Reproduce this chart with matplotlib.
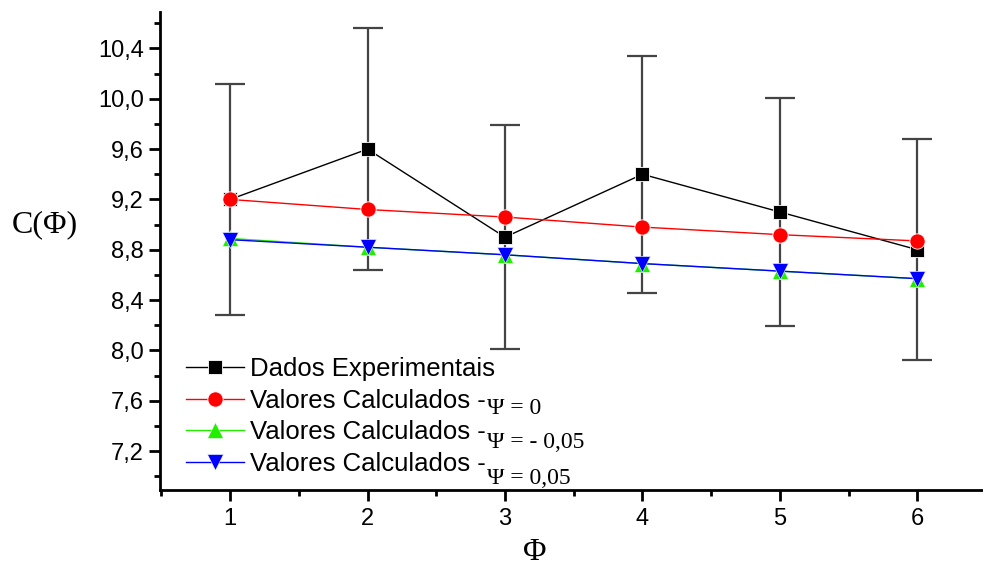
import matplotlib
matplotlib.use("Agg")
import matplotlib.pyplot as plt
from matplotlib.ticker import MultipleLocator, FuncFormatter

# data
phi = [1, 2, 3, 4, 5, 6]
c_exp = [9.2, 9.6, 8.9, 9.4, 9.1, 8.8]
c_err = [0.92, 0.96, 0.89, 0.94, 0.91, 0.88]
c_psi0 = [9.2, 9.12, 9.06, 8.98, 8.92, 8.87]
c_psi_neg = [8.89, 8.82, 8.76, 8.69, 8.63, 8.57]
c_psi_pos = [8.88, 8.82, 8.76, 8.69, 8.63, 8.57]

psi_labels = ["\u03a8 = 0", "\u03a8 = - 0,05", "\u03a8 = 0,05"]

W, H = 983, 568
fig = plt.figure(figsize=(W / 100, H / 100), dpi=100)
ax = fig.add_axes([160 / W, 1 - 490 / H, 1 - 161 / W, (490 - 12) / H])

sans = ["Liberation Sans", "DejaVu Sans"]
serif = ["Liberation Serif", "DejaVu Serif"]

ax.errorbar(phi, c_exp, yerr=c_err, fmt="none", ecolor="#444444",
            elinewidth=1.6, capsize=11, capthick=1.6, zorder=1)
ax.plot(phi, c_exp, color="black", lw=1.0, marker="s", ms=10,
        mfc="black", mec="white", mew=0.6, zorder=3,
        label="Dados Experimentais")
ax.plot(phi, c_psi0, color="red", lw=1.0, marker="o", ms=11,
        mfc="red", mec="white", mew=0.6, zorder=4,
        label="Valores Calculados -")
ax.plot(phi, c_psi_neg, color="#22ee00", lw=1.0, marker="^", ms=11,
        mfc="#22ee00", mec="white", mew=0.4, zorder=5,
        label="Valores Calculados -")
ax.plot(phi, c_psi_pos, color="blue", lw=1.0, marker="v", ms=11,
        mfc="blue", mec="white", mew=0.4, zorder=6,
        label="Valores Calculados -")

ax.set_xlim(0.49, 6.47)
ax.set_ylim(6.89, 10.69)

ax.xaxis.set_major_locator(MultipleLocator(1))
ax.xaxis.set_minor_locator(MultipleLocator(0.5))
ax.yaxis.set_major_locator(MultipleLocator(0.4))
ax.yaxis.set_minor_locator(MultipleLocator(0.2))
ax.yaxis.set_major_formatter(FuncFormatter(lambda v, p: f"{v:.1f}".replace(".", ",")))

for s in ["top", "right"]:
    ax.spines[s].set_visible(False)
for s in ["left", "bottom"]:
    ax.spines[s].set_linewidth(2)

ax.tick_params(which="major", direction="out", length=8, width=2, labelsize=17)
ax.tick_params(which="minor", direction="out", length=4, width=2)
ax.tick_params(axis="x", pad=5)
for lab in ax.get_xticklabels() + ax.get_yticklabels():
    lab.set_family(sans)

fig.text(45 / W, 1 - 225 / H, "C(\u03a6)", family=serif, fontsize=23,
         ha="center", va="center")
fig.text(535 / W, 1 - 553 / H, "\u03a6", family=serif, fontsize=23,
         ha="center", va="center")

leg = ax.legend(loc="upper left", bbox_to_anchor=((186 - 160) / (W - 161), (490 - 357) / 478),
                frameon=False, prop={"family": sans, "size": 18.5},
                handlelength=2.25, handletextpad=0.25, labelspacing=0.3,
                borderaxespad=0, borderpad=0)

psi_pos = [(487, 409), (487, 443), (487, 479)]
for (px, py), txt in zip(psi_pos, psi_labels):
    fig.text(px / W, 1 - py / H, txt, family=serif, fontsize=17,
             ha="left", va="center")

fig.savefig("out.png", dpi=100)
